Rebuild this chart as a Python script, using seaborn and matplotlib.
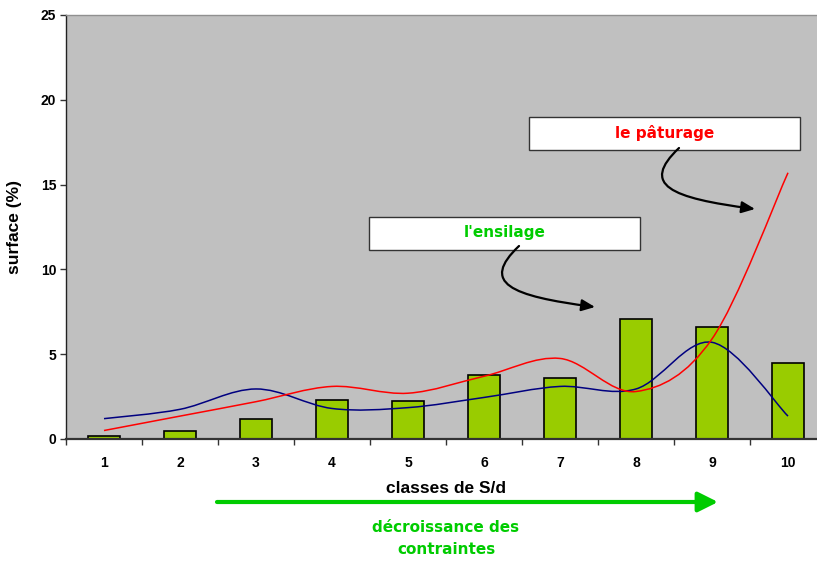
import numpy as np
import pandas as pd
import matplotlib
matplotlib.use("Agg")
import matplotlib.pyplot as plt
import seaborn as sns
from matplotlib.path import Path
from matplotlib.patches import PathPatch, FancyArrowPatch, Rectangle
from matplotlib.ticker import FixedLocator

# ---- data ----
classes = ["1", "2", "3", "4", "5", "6", "7", "8", "9", "10"]
surface = [0.15, 0.5, 1.15, 2.3, 2.25, 3.75, 3.6, 7.05, 6.6, 4.5]
ensilage = [1.2, 1.75, 2.95, 1.8, 1.85, 2.45, 3.1, 2.95, 5.7, 1.35]
paturage = [0.5, 1.35, 2.2, 3.1, 2.7, 3.7, 4.75, 2.8, 5.9, 15.7]
y_ticks = [0, 5, 10, 15, 20, 25]

df = pd.DataFrame({"classe": classes, "surface": surface})

W, H = 817, 561
fig = plt.figure(figsize=(W / 100, H / 100), dpi=100)
ax = fig.add_axes([66 / W, 122 / H, 760 / W, 424 / H])
ax.set_facecolor("#C0C0C0")

sns.barplot(data=df, x="classe", y="surface", color="#99CC00", saturation=1,
            edgecolor="black", linewidth=1.2, width=0.41, ax=ax, zorder=2)


def smooth_path(xs, ys):
    pts = np.column_stack([xs, ys]).astype(float)
    n = len(pts)
    verts = [tuple(pts[0])]
    codes = [Path.MOVETO]
    for i in range(n - 1):
        p0 = pts[i - 1] if i > 0 else pts[i]
        p1 = pts[i]
        p2 = pts[i + 1]
        p3 = pts[i + 2] if i + 2 < n else pts[i + 1]
        c1 = p1 + (p2 - p0) / 6.0
        c2 = p2 - (p3 - p1) / 6.0
        verts += [tuple(c1), tuple(c2), tuple(p2)]
        codes += [Path.CURVE4] * 3
    return Path(verts, codes)


xpos = np.arange(len(classes))
ax.add_patch(PathPatch(smooth_path(xpos, ensilage), fill=False,
                       edgecolor="#000080", lw=1.1, zorder=3))
ax.add_patch(PathPatch(smooth_path(xpos, paturage), fill=False,
                       edgecolor="#FF0000", lw=1.1, zorder=3))

ax.set_xlim(-0.5, len(classes) - 0.5)
ax.set_ylim(0, 25)
ax.set_yticks(y_ticks)
ax.set_yticklabels([str(v) for v in y_ticks], fontsize=10, fontweight="bold",
                   family="Liberation Sans")
ax.set_xticks(xpos)
ax.set_xticklabels(classes, fontsize=10, fontweight="bold", family="Liberation Sans")
ax.xaxis.set_minor_locator(FixedLocator(np.arange(-0.5, len(classes), 1.0)))
ax.tick_params(axis="x", which="major", length=0, pad=12)
ax.tick_params(axis="x", which="minor", length=4, width=1, color="#333333",
               direction="out")
ax.tick_params(axis="y", length=4, width=1, color="#333333", pad=3)

ax.spines["right"].set_visible(False)
ax.spines["top"].set_color("#909090")
ax.spines["top"].set_linewidth(1)
ax.spines["left"].set_color("#222222")
ax.spines["left"].set_linewidth(1)
ax.spines["bottom"].set_color("#333333")
ax.spines["bottom"].set_linewidth(1.6)
ax.grid(False)

ax.set_ylabel("surface (%)", fontsize=12.5, fontweight="bold", family="Liberation Sans")
ax.yaxis.set_label_coords((22 - 66) / 760, 0.5)
ax.set_xlabel("classes de S/d", fontsize=12.5, fontweight="bold", family="Liberation Sans")
ax.xaxis.set_label_coords(0.5, (439 - 481) / 424)


def fx(x):
    return x / W


def fy(y):
    return (H - y) / H


# annotation boxes
for (x0, y0, label, col) in [(529, 117, "le pâturage", "#FF0000"),
                             (369, 217, "l'ensilage", "#00CC00")]:
    fig.add_artist(Rectangle((fx(x0), fy(y0 + 33)), 271 / W, 33 / H,
                             transform=fig.transFigure, facecolor="white",
                             edgecolor="#333333", lw=1, zorder=5))
    fig.text(fx(x0 + 136), fy(y0 + 16), label, color=col, fontsize=11,
             fontweight="bold", ha="center", va="center", zorder=6,
             family="DejaVu Sans")

# curved arrows
for dx, dy in [(0, 0), (-160, 98)]:
    P = [(679 + dx, 148 + dy), (640 + dx, 185 + dy), (670 + dx, 198 + dy),
         (755 + dx, 209 + dy)]
    path = Path([(fx(x), fy(y)) for x, y in P],
                [Path.MOVETO, Path.CURVE4, Path.CURVE4, Path.CURVE4])
    fig.add_artist(FancyArrowPatch(path=path, arrowstyle="-|>,head_length=8,head_width=3.5",
                                   mutation_scale=1, lw=1.6, color="black",
                                   transform=fig.transFigure, zorder=6))

# green arrow
fig.add_artist(FancyArrowPatch((fx(217), fy(502)), (fx(718), fy(502)),
                               arrowstyle="-|>,head_length=12,head_width=6",
                               mutation_scale=1, lw=3, color="#00CC00",
                               transform=fig.transFigure, shrinkA=0, shrinkB=0))
fig.text(fx(446), fy(527), "décroissance des", color="#00CC00", fontsize=11,
         fontweight="bold", ha="center", va="center", family="DejaVu Sans")
fig.text(fx(446), fy(550), "contraintes", color="#00CC00", fontsize=11,
         fontweight="bold", ha="center", va="center", family="DejaVu Sans")

fig.savefig("out.png", dpi=100)
